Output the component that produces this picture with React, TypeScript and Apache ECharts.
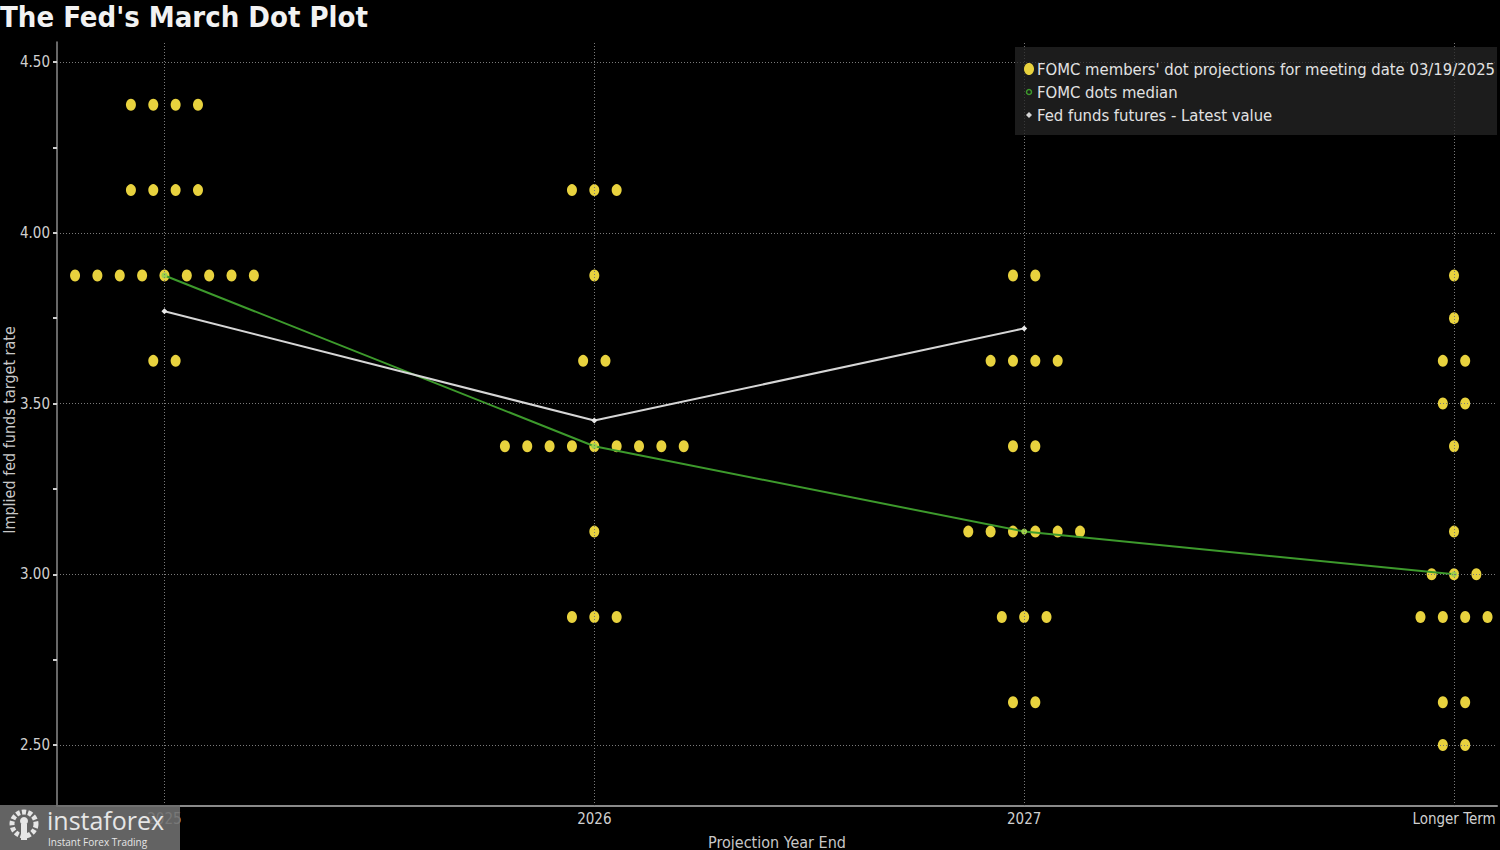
import React, { useEffect, useRef } from "react";
import * as echarts from "echarts";

const years = ["2025", "2026", "2027", "Longer Term"];

const rates2025 = [4.375, 4.125, 3.875, 3.625];
const counts2025 = [4, 4, 9, 2];
const rates2026 = [4.125, 3.875, 3.625, 3.375, 3.125, 2.875];
const counts2026 = [3, 1, 2, 9, 1, 3];
const rates2027 = [3.875, 3.625, 3.375, 3.125, 2.875, 2.625];
const counts2027 = [2, 4, 2, 6, 3, 2];
const ratesLT = [3.875, 3.75, 3.625, 3.5, 3.375, 3.125, 3.0, 2.875, 2.625, 2.5];
const countsLT = [1, 1, 2, 2, 1, 1, 3, 4, 2, 2];

const medianValues = [3.875, 3.375, 3.125, 3.0];
const futuresValues = [3.77, 3.45, 3.72];

const yTickValues = [2.5, 2.75, 3.0, 3.25, 3.5, 3.75, 4.0, 4.25, 4.5];
const yLabelValues = [2.5, 3.0, 3.5, 4.0, 4.5];

const FONT = '"DejaVu Sans Condensed", "DejaVu Sans", sans-serif';
const DOT_STEP = 0.052;

function buildDots(): number[][] {
  const groups = [
    [rates2025, counts2025],
    [rates2026, counts2026],
    [rates2027, counts2027],
    [ratesLT, countsLT],
  ];
  const pts: number[][] = [];
  groups.forEach(([rates, counts], i) => {
    rates.forEach((r, j) => {
      const n = counts[j];
      for (let k = 0; k < n; k++) {
        pts.push([i + (k - (n - 1) / 2) * DOT_STEP, r]);
      }
    });
  });
  return pts;
}

export default function App() {
  const ref = useRef<HTMLDivElement>(null);
  useEffect(() => {
    if (!ref.current) return;
    const chart = echarts.init(ref.current, null, { renderer: "svg" });
    const gridLineStyle = { color: "#7a7a7a", type: [1, 2] as any, width: 1 };
    const option: any = {
      animation: false,
      backgroundColor: "#000",
      title: {
        text: "The Fed's March Dot Plot",
        left: 0,
        top: 2,
        padding: 0,
        textStyle: { color: "#f2f2f2", fontSize: 29, fontWeight: "bold", fontFamily: FONT },
      },
      grid: { left: 57, right: 3, top: 42, bottom: 44, containLabel: false, outerBoundsMode: "none" },
      xAxis: {
        type: "value",
        min: -0.25,
        max: 3.1,
        name: "Projection Year End",
        nameLocation: "middle",
        nameGap: 28,
        nameTextStyle: { color: "#c8c8c8", fontSize: 16, fontFamily: FONT },
        axisLine: { show: true, onZero: false, lineStyle: { color: "#8a8a8a", width: 2 } },
        axisTick: { show: false },
        splitLine: { show: false },
        axisLabel: {
          customValues: [0, 1, 2, 3],
          color: "#d0d0d0",
          fontSize: 15,
          fontFamily: FONT,
          margin: 5,
          formatter: (v: number) => years[Math.round(v)] ?? "",
        },
      },
      yAxis: {
        type: "value",
        min: 2.3214,
        max: 4.5586,
        axisLine: { show: true, onZero: false, lineStyle: { color: "#8a8a8a", width: 1.5 } },
        axisTick: {
          show: true,
          customValues: yTickValues,
          length: 4,
          lineStyle: { color: "#cfcfcf", width: 2 },
        },
        splitLine: { show: false },
        axisLabel: {
          customValues: yLabelValues,
          color: "#d0d0d0",
          fontSize: 15,
          fontFamily: FONT,
          margin: 7,
          formatter: (v: number) => v.toFixed(2),
        },
      },
      series: [
        {
          name: "grid",
          type: "line",
          data: [],
          silent: true,
          markLine: {
            silent: true,
            symbol: "none",
            label: { show: false },
            lineStyle: gridLineStyle,
            data: [
              ...yLabelValues.map((v) => ({ yAxis: v })),
              ...[0, 1, 2, 3].map((v) => ({ xAxis: v })),
            ],
          },
        },
        {
          name: "FOMC members' dot projections for meeting date 03/19/2025",
          type: "scatter",
          symbol: "circle",
          symbolSize: [10, 12],
          itemStyle: { color: "#e8d23e", opacity: 1 },
          data: buildDots(),
          z: 3,
        },
        {
          name: "FOMC dots median",
          type: "line",
          data: medianValues.map((v, i) => [i, v]),
          symbol: "circle",
          symbolSize: 6,
          itemStyle: { color: "#9ed04a", opacity: 1 },
          lineStyle: { color: "#3d9a2c", width: 2 },
          z: 4,
        },
        {
          name: "Fed funds futures - Latest value",
          type: "line",
          data: futuresValues.map((v, i) => [i, v]),
          symbol: "diamond",
          symbolSize: 6,
          itemStyle: { color: "#e8e8e8", opacity: 1 },
          lineStyle: { color: "#d6d6d6", width: 2 },
          z: 5,
        },
      ],
      graphic: [
        {
          type: "text",
          x: 9,
          y: 430,
          rotation: Math.PI / 2,
          style: {
            text: "Implied fed funds target rate",
            fill: "#c8c8c8",
            font: `16px ${FONT}`,
            align: "center",
            verticalAlign: "middle",
          },
          z: 11,
        },
        {
          type: "rect",
          shape: { x: 1015, y: 47, width: 482, height: 88 },
          style: { fill: "rgba(38,38,38,0.75)" },
          z: 10,
        },
        { type: "ellipse", shape: { cx: 1029, cy: 69, rx: 5, ry: 6 }, style: { fill: "#e8d23e" }, z: 11 },
        { type: "circle", shape: { cx: 1029, cy: 92, r: 2.5 }, style: { fill: "none", stroke: "#3d9a2c", lineWidth: 1.5 }, z: 11 },
        {
          type: "polygon",
          shape: { points: [[1029, 112], [1032, 115], [1029, 118], [1026, 115]] },
          style: { fill: "#d6d6d6" },
          z: 11,
        },
        {
          type: "text",
          x: 1037,
          y: 69,
          style: { text: "FOMC members' dot projections for meeting date 03/19/2025", fill: "#e2e2e2", font: `16.5px ${FONT}`, verticalAlign: "middle" },
          z: 11,
        },
        {
          type: "text",
          x: 1037,
          y: 92,
          style: { text: "FOMC dots median", fill: "#e2e2e2", font: `16.5px ${FONT}`, verticalAlign: "middle" },
          z: 11,
        },
        {
          type: "text",
          x: 1037,
          y: 115,
          style: { text: "Fed funds futures - Latest value", fill: "#e2e2e2", font: `16.5px ${FONT}`, verticalAlign: "middle" },
          z: 11,
        },
        {
          type: "rect",
          shape: { x: 0, y: 805, width: 180, height: 45 },
          style: { fill: "rgba(110,110,110,0.9)" },
          z: 20,
        },
        { type: "circle", shape: { cx: 24, cy: 824, r: 12 }, style: { fill: "none", stroke: "#e6e6e6", lineWidth: 5, lineDash: [4, 2] }, z: 21 },
        { type: "circle", shape: { cx: 24, cy: 821, r: 4 }, style: { fill: "#e6e6e6" }, z: 21 },
        { type: "rect", shape: { x: 21, y: 824, width: 6, height: 16 }, style: { fill: "#e6e6e6" }, z: 21 },
        {
          type: "text",
          x: 47,
          y: 820,
          style: { text: "instaforex", fill: "#e6e6e6", font: `25px "Open Sans", sans-serif`, verticalAlign: "middle" },
          z: 21,
        },
        {
          type: "text",
          x: 48,
          y: 842,
          style: { text: "Instant Forex Trading", fill: "#e6e6e6", font: `10px "Open Sans", sans-serif`, verticalAlign: "middle" },
          z: 21,
        },
      ],
    };
    chart.setOption(option);
    return () => chart.dispose();
  }, []);
  return (
    <div
      ref={ref}
      style={{ position: "absolute", left: 0, top: 0, width: 1500, height: 850, background: "#000" }}
    />
  );
}
